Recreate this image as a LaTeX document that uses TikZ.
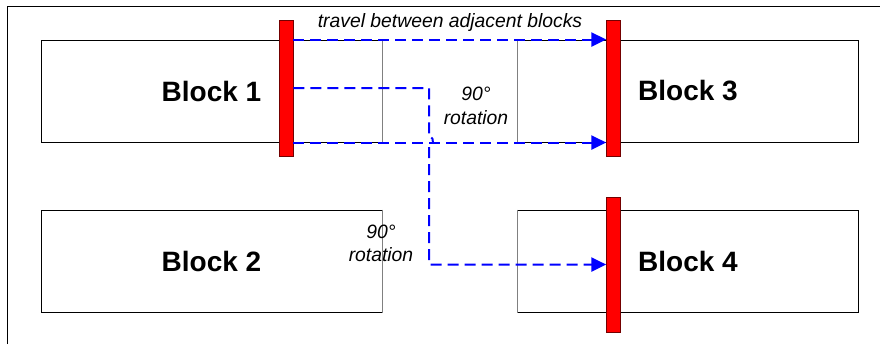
\documentclass[tikz,border=0pt]{standalone}
\usepackage{fontspec}
\setmainfont{Liberation Sans}
\usepackage{tikz}
\usetikzlibrary{arrows.meta, calc}

\tikzset{
	block/.style={draw, line width=0.75pt, minimum width=255.75pt, minimum height=76.5pt,
		inner sep=0pt, font=\fontsize{21}{25}\selectfont\bfseries},
	gate/.style={draw=red!45!black, fill=red, line width=0.6pt, minimum width=10.5pt,
		minimum height=102pt, inner sep=0pt},
	travel/.style={blue, line width=1.5pt, dash pattern=on 8.25pt off 4.5pt,
		-{Triangle[length=11pt, width=10.5pt]}},
	note/.style={align=center, font=\fontsize{14.5}{17.5}\selectfont\itshape}
}

\begin{document}
\begin{tikzpicture}[x=0.75pt, y=-0.75pt]
	\def\xMAX{880};
	\def\yMAX{344};
	\def\xTurn{429};

	\useasboundingbox (0,0) rectangle (\xMAX,\yMAX);

	% frame
	\draw[line width=0.75pt] (7,\yMAX) -- (7,6) -- (\xMAX,6);

	% blocks
	\begin{scope}
		\node[block] (b1) at (211.5,91) {Block 1};
		\node[block] (b2) at (211.5,261) {Block 2};
		\node[block] (b3) at (688,91) {Block 3};
		\node[block] (b4) at (688,261) {Block 4};
		\draw[gray, line width=0.75pt] (b1.north east) -- (b1.south east);
		\draw[gray, line width=0.75pt] (b2.north east) -- (b2.south east);
		\draw[gray, line width=0.75pt] (b3.north west) -- (b3.south west);
		\draw[gray, line width=0.75pt] (b4.north west) -- (b4.south west);
	\end{scope}

	% red gates
	\begin{scope}
		\node[gate] (g1) at (286,88) {};
		\node[gate] (g3) at (613.5,88) {};
		\node[gate, minimum height=101.25pt] (g4) at (613.5,264.5) {};
	\end{scope}

	% travel paths
	\begin{scope}
		\coordinate (turn) at (\xTurn,88);
		\draw[travel] (g1.east |- b1.north) -- (g3.west |- b3.north);
		\draw[travel] (g1.east |- b1.south) -- (g3.west |- b3.south);
		\draw[travel] (g1.east) -- (turn) -- (\xTurn,137)
			.. controls (\xTurn+4,137) and (\xTurn+4,140) .. (\xTurn+4,143)
			(\xTurn,147) |- (g4.west);
	\end{scope}

	% labels
	\begin{scope}
		\node[note] (tr) at (450,22) {travel between adjacent blocks};
		\node[note] (r1) at (476,106) {90°\\rotation};
		\node[note] (r2) at (381,243.5) {90°\\rotation};
	\end{scope}
\end{tikzpicture}
\end{document}
